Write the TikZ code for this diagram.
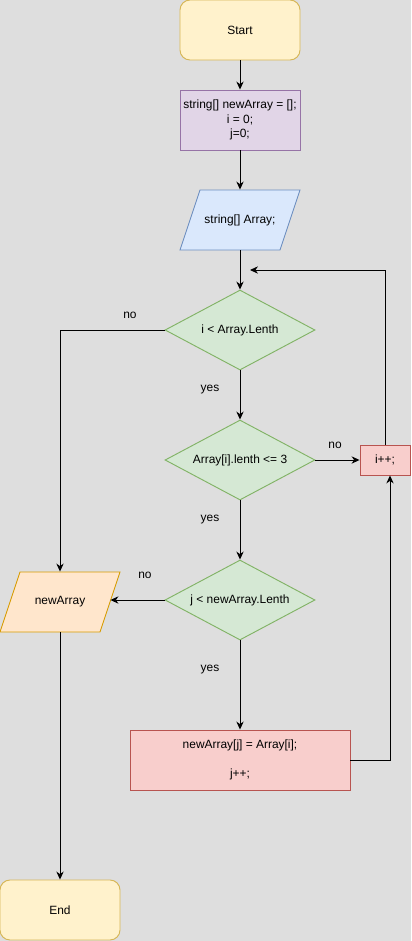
\documentclass[tikz,border=0pt]{standalone}
\usepackage{fontspec}
\setmainfont{Liberation Sans}
\usetikzlibrary{arrows.meta,positioning,shapes.geometric}
\definecolor{bggray}{RGB}{222,222,222}
\definecolor{termfill}{RGB}{255,242,204}
\definecolor{termline}{RGB}{214,182,86}
\definecolor{initfill}{RGB}{225,213,231}
\definecolor{initline}{RGB}{150,115,166}
\definecolor{infill}{RGB}{218,232,252}
\definecolor{inline}{RGB}{108,142,191}
\definecolor{condfill}{RGB}{213,232,212}
\definecolor{condline}{RGB}{130,179,102}
\definecolor{actfill}{RGB}{248,206,204}
\definecolor{actline}{RGB}{184,84,80}
\definecolor{outfill}{RGB}{255,230,204}
\definecolor{outline}{RGB}{215,155,0}

\tikzset{
  every node/.style={font=\fontsize{10.2}{12.4}\selectfont, inner sep=0pt},
  terminal/.style={draw=termline, fill=termfill, rounded corners=0.3cm, minimum width=3.6cm, minimum height=1.8cm},
  process/.style={draw=#1line, fill=#1fill, minimum height=1.8cm, align=center},
  ioshape/.style={draw=#1line, fill=#1fill},
  iotext/.style={minimum width=3cm, minimum height=1.8cm},
  decision/.style={diamond, aspect=1.875, draw=condline, fill=condfill, minimum width=4.5cm, minimum height=2.4cm},
  flow/.style={-{Stealth[length=2.4mm,width=2.2mm]}},
  edgelabel/.style={font=\fontsize{10.2}{12.4}\selectfont}
}

\begin{document}
\begin{tikzpicture}[x=0.03cm, y=-0.03cm, line width=0.8pt]
  % Background
  \fill[bggray] (0,0) rectangle (411,941);
  \useasboundingbox (0,0) rectangle (411,941);

  % Parallelograms
  \draw[ioshape=in] (200,190) -- (300,190) -- (280,250) -- (180,250) -- cycle;
  \draw[ioshape=out] (20,572) -- (120,572) -- (100,632) -- (0,632) -- cycle;

  % Main column
  \node[terminal] (start) at (240,30) {Start};
  \node[process=init, minimum width=3.6cm] (init) at (240,120) {string[] newArray = [];\\i = 0;\\j=0;};
  \node[iotext] (input) at (240,220) {string[] Array;};
  \node[decision] (cond1) at (240,330) {i < Array.Lenth};
  \node[decision] (cond2) at (240,460) {Array[i].lenth <= 3};
  \node[decision] (cond3) at (240,600) {j < newArray.Lenth};
  \node[process=act, minimum width=6.6cm] (assign) at (240,760) {newArray[j] = Array[i];\\[12pt]j++;};

  % Side boxes
  \node[process=act, minimum width=1.5cm, minimum height=0.9cm] (inc) at (385,460) {i++;};
  \node[iotext] (result) at (60,602) {newArray};
  \node[terminal] (end) at (60,910) {End};

  % Labels
  \node[edgelabel] (no1) at (130,315) {no};
  \node[edgelabel] (yes1) at (210,390) {yes};
  \node[edgelabel] (no2) at (335,445) {no};
  \node[edgelabel] (yes2) at (210,520) {yes};
  \node[edgelabel] (no3) at (145,575) {no};
  \node[edgelabel] (yes3) at (210,670) {yes};

  % Loop points
  \coordinate (loopin) at (250,270);
  \coordinate (backj) at (390,760);

  % Connectors
  \draw[flow] (start) -- (init);
  \draw[flow] (init) -- (input);
  \draw[flow] (input) -- (cond1);
  \draw[flow] (cond1) -- (cond2);
  \draw[flow] (cond2) -- (inc);
  \draw[flow] (cond2) -- (cond3);
  \draw[flow] (cond3) -- (assign);
  \draw[flow] (cond3.west) -- (cond3.west -| result.east);
  \draw[flow] (cond1.west) -| (result);
  \draw[flow] (result) -- (end);
  \draw[flow] (inc.north) |- (loopin);
  \draw[flow] (assign.east) -- (backj) -- (backj |- inc.south);
\end{tikzpicture}
\end{document}
